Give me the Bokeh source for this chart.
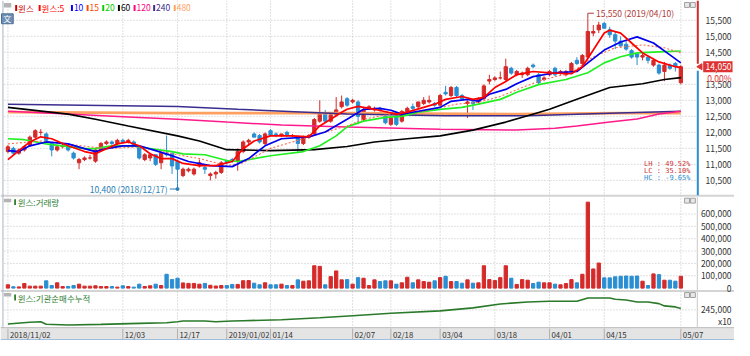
import numpy as np
from bokeh.plotting import figure
from bokeh.models import Range1d, ColumnDataSource
from bokeh.core.properties import value
from bokeh.embed import file_html
from bokeh.resources import INLINE

# ---------------- data ----------------
DATE_TICK_IDX = [0, 21, 31, 40, 48, 63, 70, 79, 89, 99, 109, 123]
DATE_LABELS = ["2018/11/02", "12/03", "12/17", "2019/01/02", "01/14", "02/07",
               "02/18", "03/04", "03/18", "04/01", "04/15", "05/07"]
HIGH_DATE = "2019/04/10"
LOW_DATE = "2018/12/17"

OPEN = [11400, 11500, 11350, 11450, 11600, 11850, 12000, 11950, 11650, 11450,
        11550, 11550, 11350, 11050, 11150, 11200, 11100, 11450, 11650, 11700,
        11650, 11750, 11700, 11700, 11550, 11150, 11200, 11300, 11050, 11350,
        11350, 11100, 10650, 10800, 10700, 10950, 10900, 10650, 10700, 10750,
        11100, 11150, 11100, 11400, 11700, 11950, 11900, 11650, 12050, 11950,
        11900, 12000, 11900, 11850, 11650, 11850, 11950, 12350, 12600, 12350,
        12550, 12800, 13050, 12950, 12950, 12400, 12750, 12700, 12750, 12500,
        12250, 12500, 12350, 12650, 12800, 12800, 12900, 12950, 12900, 12850,
        13250, 13150, 13400, 13150, 12900, 12950, 12950, 13050, 13600, 13650,
        13700, 13650, 14000, 13800, 13800, 13800, 14100, 13800, 13650, 13800,
        14000, 13850, 13800, 13900, 14250, 14150, 14350, 15100, 15200, 15400,
        15200, 15050, 14850, 14750, 14550, 14450, 14350, 14350, 14100, 14100,
        13900, 14100, 14150, 13550]
HIGH = [11600, 11550, 11500, 11600, 11900, 12100, 12100, 12000, 11700, 11600,
        11650, 11600, 11400, 11200, 11250, 11300, 11500, 11700, 11750, 11750,
        11800, 11800, 11800, 11750, 11550, 11350, 11350, 11300, 11400, 11900,
        11350, 11150, 10900, 10900, 10900, 11150, 10950, 10750, 10800, 11100,
        11150, 11200, 11500, 11750, 11800, 12000, 11950, 12000, 12100, 12000,
        11950, 12050, 11950, 11900, 11900, 11950, 12450, 13000, 12700, 12600,
        13100, 13150, 13100, 13050, 13000, 12750, 12850, 12800, 12800, 12550,
        12500, 12550, 12700, 12800, 12900, 12950, 13100, 13150, 12950, 13200,
        13450, 13450, 13450, 13200, 13000, 13000, 13100, 13500, 13800, 13750,
        13900, 14300, 14050, 13950, 13900, 14050, 14150, 13850, 13750, 13950,
        14050, 13950, 13950, 14200, 14350, 14450, 15550, 15350, 15450, 15450,
        15300, 15150, 15000, 14850, 14600, 14500, 14450, 14400, 14300, 14150,
        14200, 14150, 14200, 14100]
LOW = [11350, 11300, 11300, 11400, 11550, 11800, 11900, 11700, 11250, 11400,
       11500, 11400, 11150, 10850, 11100, 11150, 11050, 11400, 11600, 11600,
       11600, 11650, 11650, 11550, 11150, 11100, 11100, 10950, 10850, 11250,
       10700, 10400, 10600, 10750, 10650, 10900, 10700, 10500, 10550, 10700,
       11000, 11050, 10800, 11350, 11600, 11850, 11650, 11600, 11900, 11850,
       11850, 11850, 11850, 11350, 11600, 11800, 11900, 12300, 12300, 12300,
       12500, 12750, 12800, 12900, 12250, 12350, 12700, 12650, 12650, 12250,
       12200, 12200, 12300, 12600, 12700, 12750, 12850, 12900, 12800, 12800,
       13150, 13100, 13100, 13000, 12450, 12700, 12900, 13000, 13500, 13600,
       13650, 13600, 13800, 13750, 13700, 13750, 14000, 13500, 13600, 13750,
       13750, 13800, 13750, 13850, 14100, 14100, 14300, 15000, 15100, 15250,
       14950, 14600, 14650, 14550, 14300, 14100, 14250, 14150, 14050, 13800,
       13600, 13950, 13900, 13500]
CLOSE = [11550, 11350, 11450, 11550, 11850, 12050, 12000, 11750, 11450, 11550,
         11600, 11450, 11200, 11150, 11200, 11200, 11450, 11650, 11700, 11650,
         11750, 11700, 11750, 11600, 11200, 11300, 11300, 11000, 11350, 11300,
         10950, 10850, 10850, 10850, 10850, 11050, 10850, 10700, 10750, 11050,
         11050, 11100, 11400, 11700, 11750, 11850, 11700, 11950, 11900, 11900,
         11950, 11900, 11900, 11650, 11850, 11900, 12400, 12600, 12350, 12550,
         12700, 12950, 12850, 13000, 12500, 12700, 12800, 12750, 12700, 12300,
         12450, 12250, 12650, 12750, 12750, 12950, 13000, 13000, 12850, 13150,
         13200, 13400, 13150, 13050, 12950, 12900, 13050, 13450, 13650, 13700,
         13700, 14050, 13850, 13900, 13850, 14000, 14050, 13550, 13700, 13900,
         13800, 13900, 13900, 14150, 14150, 14400, 15150, 15150, 15350, 15250,
         15050, 14850, 14700, 14600, 14350, 14350, 14400, 14250, 14250, 13850,
         14100, 14000, 14050, 14050]
VOLUME = [27000, 11000, 10000, 37000, 16000, 16000, 16000, 59000, 21000, 43000,
          13000, 13000, 21000, 32000, 16000, 16000, 19000, 13000, 13000, 13000,
          8000, 19000, 13000, 8000, 32000, 13000, 19000, 32000, 21000, 112000,
          69000, 80000, 42000, 38000, 38000, 32000, 38000, 23000, 17000, 21000,
          21000, 30000, 30000, 60000, 61000, 40000, 27000, 43000, 27000, 27000,
          32000, 21000, 21000, 67000, 56000, 59000, 181000, 176000, 27000, 93000,
          139000, 67000, 69000, 32000, 85000, 80000, 21000, 67000, 53000, 59000,
          59000, 32000, 43000, 88000, 43000, 67000, 53000, 48000, 59000, 85000,
          96000, 53000, 53000, 40000, 67000, 40000, 43000, 181000, 69000, 61000,
          85000, 181000, 80000, 30000, 69000, 64000, 37000, 48000, 43000, 43000,
          32000, 27000, 37000, 69000, 43000, 112000, 696000, 155000, 203000, 83000,
          83000, 92000, 96000, 98000, 96000, 98000, 56000, 21000, 115000, 109000,
          64000, 64000, 56000, 96000]

MA5_IDX = [0, 2, 4, 6, 8, 11, 14, 16, 18, 20, 22, 24, 26, 28, 30, 32, 35, 38, 41, 43,
           45, 48, 52, 55, 57, 59, 61, 62, 64, 67, 71, 73, 76, 78, 80, 83, 85, 87, 89,
           91, 93, 96, 99, 103, 105, 107, 109, 110, 112, 114, 116, 119, 122, 123]
MA5_VAL = [11150, 11430, 11700, 11860, 11800, 11580, 11400, 11330, 11490, 11640, 11700,
           11580, 11330, 11180, 11180, 11030, 10960, 10960, 11090, 11490, 11730, 11890,
           11890, 11860, 12200, 12410, 12630, 12720, 12810, 12720, 12570, 12630, 12780,
           12880, 13030, 13120, 13030, 13090, 13400, 13590, 13800, 13900, 13860, 13830,
           14050, 14570, 15100, 15190, 15100, 14790, 14480, 14200, 14050, 14020]
MA10_IDX = [0, 2, 4, 7, 11, 14, 16, 18, 21, 24, 27, 30, 33, 37, 41, 44, 47, 50, 55, 58,
            62, 65, 68, 70, 72, 75, 79, 81, 84, 86, 88, 91, 93, 96, 100, 104, 106, 109,
            112, 115, 118, 121, 123]
MA10_VAL = [11430, 11400, 11580, 11700, 11640, 11490, 11400, 11490, 11580, 11580, 11430,
            11270, 11090, 10960, 10930, 11180, 11580, 11800, 11860, 12010, 12410, 12720,
            12750, 12690, 12570, 12660, 12780, 12970, 13030, 12970, 13190, 13340, 13520,
            13740, 13860, 13900, 14170, 14570, 14820, 14980, 14790, 14420, 14170]
MA15_IDX = [0, 6, 12, 18, 24, 30, 35, 40, 43, 48, 54, 58, 62, 65, 70, 76, 82, 86, 90,
            94, 98, 103, 107, 111, 116, 120, 123]
MA15_VAL = [11640, 11730, 11610, 11490, 11550, 11330, 11180, 10960, 11050, 11500, 11800,
            12010, 12200, 12410, 12570, 12660, 12880, 12940, 13120, 13400, 13650, 13860,
            14360, 14640, 14730, 14640, 14480]
MA20_IDX = [0, 3, 7, 14, 16, 19, 23, 26, 30, 32, 36, 40, 42, 48, 54, 57, 60, 62, 65, 69,
            72, 75, 79, 83, 86, 90, 93, 97, 102, 106, 109, 112, 115, 119, 123]
MA20_VAL = [11800, 11770, 11640, 11490, 11490, 11580, 11580, 11490, 11400, 11330, 11300,
            11120, 11090, 11270, 11400, 11580, 11890, 12170, 12350, 12470, 12500, 12630,
            12720, 12780, 12880, 13030, 13250, 13490, 13650, 13860, 14170, 14360, 14480,
            14510, 14540]
MA60_IDX = [0, 11, 16, 22, 31, 35, 40, 48, 56, 62, 67, 73, 79, 85, 91, 95, 99, 104, 110,
            116, 120, 123]
MA60_VAL = [12780, 12570, 12410, 12200, 11890, 11730, 11460, 11430, 11460, 11560, 11700,
            11800, 11890, 12070, 12320, 12520, 12720, 13030, 13400, 13520, 13650, 13710]
MA120_IDX = [0, 11, 22, 31, 40, 50, 62, 79, 93, 100, 104, 110, 115, 119, 123]
MA120_VAL = [12660, 12570, 12480, 12410, 12320, 12230, 12170, 12100, 12070, 12130, 12200,
             12320, 12420, 12570, 12660]
MA240_IDX = [0, 31, 42, 62, 80, 95, 110, 123]
MA240_VAL = [12880, 12810, 12720, 12570, 12520, 12520, 12600, 12660]
MA480_IDX = [0, 31, 62, 93, 112, 123]
MA480_VAL = [12630, 12600, 12600, 12570, 12600, 12600]

INST_IDX = [0, 4, 6, 7, 11, 17, 24, 29, 31, 32, 36, 38, 41, 43, 50, 57, 63, 70, 79, 85,
            90, 95, 99, 104, 106, 110, 111, 113, 115, 117, 119, 120, 122, 123]
INST_VAL = [230700, 232500, 233000, 230500, 229700, 230300, 231300, 232000, 233000,
            233700, 233700, 233000, 233700, 234000, 235000, 237000, 239000, 241500,
            244000, 247000, 251000, 253000, 253700, 253700, 257000, 257000, 255700,
            255000, 253000, 253000, 251300, 249000, 248000, 246300]

PRICE_TICKS = [10500, 11000, 11500, 12000, 12500, 13000, 13500, 14000, 14500, 15000, 15500]
VOL_TICKS = [0, 100000, 200000, 300000, 400000, 500000, 600000]
INST_TICKS = [245000]

LEGEND_TEXT = ["윈스", "윈스:5", "10", "15", "20", "60", "120", "240", "480"]
LEGEND_COLOR = ["#cc0000", "#ff0000", "#0000ff", "#ff4500", "#00d000", "#000000",
                "#ff0080", "#3b2d8f", "#ffa060"]

# ---------------- layout helpers (reference pixels) ----------------
def X(px):
    return (px - 7.6) / 5.59

PRICE_RANGE = (5500, 16117.3)
PPW = 344.0 / (PRICE_RANGE[1] - PRICE_RANGE[0])   # pixels per won


def dp(px):
    return px / PPW

RED = "#d42a2a"
BLUE = "#2a8ed2"
GRID = "#c2c2c2"
KF = value("Noto Sans CJK KR")
MONO = value("DejaVu Sans Mono")

p = figure(width=734, height=340, x_range=Range1d(X(0), X(750)), y_range=Range1d(344, 0),
           output_backend="svg", toolbar_location=None,
           x_axis_location=None, y_axis_location=None,
           min_border_left=0, min_border_right=0, min_border_top=0, min_border_bottom=0)
p.outline_line_color = None
p.xgrid.visible = False
p.ygrid.visible = False
p.background_fill_color = "white"
p.border_fill_color = "white"
p.extra_y_ranges = {"price": Range1d(*PRICE_RANGE),
                    "vol": Range1d(-424000, 2328000),
                    "inst": Range1d(214000, 558000)}

# panel chrome
p.quad(left=X(0), right=X(750), top=331, bottom=344, fill_color="#e4e4e4", line_color=None)
p.segment(x0=X(0), x1=X(750), y0=[331, 343.5], y1=[331, 343.5],
          line_color=["#bcbcbc", "#5b9bd5"], line_width=1)
p.quad(left=X(0), right=X(750), top=[196.5, 293], bottom=[198.5, 295],
       fill_color="#d4d4d4", line_color=None)
p.segment(x0=X(2.5), x1=X(2.5), y0=0, y1=331, line_color="#a9b4c2", line_width=1)
p.segment(x0=X(712), x1=X(712), y0=[199, 295], y1=[293, 331], line_color="#c8c8c8")

# grids
p.segment(x0=DATE_TICK_IDX, x1=DATE_TICK_IDX, y0=0, y1=331, line_color=GRID, line_dash="1 2")
p.segment(x0=DATE_TICK_IDX, x1=DATE_TICK_IDX, y0=332, y1=343, line_color="#b0b0b0")
p.segment(x0=X(4), x1=X(711), y0=PRICE_TICKS, y1=PRICE_TICKS, y_range_name="price",
          line_color=GRID, line_dash="1 2")
p.segment(x0=X(4), x1=X(711), y0=VOL_TICKS[1:], y1=VOL_TICKS[1:], y_range_name="vol",
          line_color=GRID, line_dash="1 2")
p.segment(x0=X(4), x1=X(711), y0=INST_TICKS, y1=INST_TICKS, y_range_name="inst",
          line_color=GRID, line_dash="1 2")

# candles & volume
N = len(CLOSE)
IDX = list(range(N))
colors = [RED if c >= o else BLUE for o, c in zip(OPEN, CLOSE)]
src = ColumnDataSource(dict(x=IDX, o=OPEN, h=HIGH, l=LOW, c=CLOSE,
                            top=[max(o, c) for o, c in zip(OPEN, CLOSE)],
                            bot=[min(o, c) for o, c in zip(OPEN, CLOSE)],
                            vol=VOLUME, color=colors))
p.segment(x0="x", x1="x", y0="l", y1="h", line_color="color", source=src, y_range_name="price")
p.vbar(x="x", top="top", bottom="bot", width=0.6, fill_color="color", line_color="color",
       source=src, y_range_name="price")
p.vbar(x="x", top="vol", bottom=0, width=0.6, fill_color="color", line_color="color",
       source=src, y_range_name="vol")

# moving averages
for xs, ys, col, w, dash in [
        (MA480_IDX, MA480_VAL, "#ffa060", 2.6, "solid"),
        (MA240_IDX, MA240_VAL, "#3b2d8f", 1.5, "solid"),
        (MA120_IDX, MA120_VAL, "#ff1a8c", 1.5, "solid"),
        (MA60_IDX, MA60_VAL, "#000000", 1.6, "solid"),
        (MA20_IDX, MA20_VAL, "#22ee22", 1.7, "solid"),
        (MA15_IDX, MA15_VAL, "#ff6a4d", 1.1, "2 2"),
        (MA10_IDX, MA10_VAL, "#0000ee", 1.7, "solid"),
        (MA5_IDX, MA5_VAL, "#ff0000", 1.7, "solid")]:
    p.line(xs, ys, line_color=col, line_width=w, line_dash=dash, y_range_name="price")

p.line(INST_IDX, INST_VAL, line_color="#2a7a2a", line_width=1.6, y_range_name="inst")

# price bar at right edge of price panel
last = CLOSE[-1]
prev = CLOSE[-2]
p.segment(x0=X(712.5), x1=X(712.5), y0=[last + dp(3)], y1=[PRICE_RANGE[1]],
          line_color=RED, line_width=2, y_range_name="price")
p.segment(x0=X(712.5), x1=X(712.5), y0=[last - dp(4)], y1=[13000 - dp(96)],
          line_color=BLUE, line_width=2, y_range_name="price")

# high / low annotations
hi = max(HIGH); hi_i = HIGH.index(hi)
lo = min(LOW); lo_i = LOW.index(lo)
hy = hi + dp(5.5)
ly = lo - dp(5.5)
p.line([hi_i, hi_i, hi_i + 1.1], [hi, hy, hy], line_color="#b03a3a", y_range_name="price")
p.text(x=[hi_i + 1.5], y=[hy], text=[f"{hi:,} ({HIGH_DATE})"], text_font=KF,
       text_font_size="8.5px", text_color="#b03a3a", text_baseline="middle", y_range_name="price")
p.line([lo_i, lo_i, lo_i - 1.4], [lo, ly, ly], line_color="#2a7fb8", y_range_name="price")
p.scatter([lo_i], [ly], size=3, color="#2a7fb8", y_range_name="price")
p.text(x=[lo_i - 1.8], y=[ly], text=[f"{lo:,} ({LOW_DATE})"], text_font=KF,
       text_font_size="8.5px", text_color="#2a7fb8", text_align="right",
       text_baseline="middle", y_range_name="price")

lh = (hi - lo) / lo * 100
lc = (last - lo) / lo * 100
hc = (last - hi) / hi * 100
p.text(x=X(705), y=[165, 172.5, 180], text=[f"LH : {lh:.2f}%", f"LC : {lc:.2f}%", f"HC : {hc:.2f}%"],
       text_font=MONO, text_font_size="7px", text_color=["#cc3333", "#cc3333", "#2a8ed2"],
       text_align="right", text_baseline="middle")

# right axis labels
p.text(x=X(747), y=PRICE_TICKS, text=[f"{v:,}" for v in PRICE_TICKS], text_font=KF,
       text_font_size="8.5px", text_color="#333333", text_align="right",
       text_baseline="middle", y_range_name="price")
p.rect(x=X(733), y=[last], width=X(748) - X(718), height=dp(11), fill_color="#dd3333",
       line_color=None, y_range_name="price")
p.scatter(x=[X(715)], y=[last], marker="triangle", angle=np.pi / 2, size=6, color="#dd3333",
          y_range_name="price")
p.text(x=X(747), y=[last], text=[f"{last:,}"], text_font=KF, text_font_size="8.5px",
       text_color="white", text_align="right", text_baseline="middle", y_range_name="price")
p.text(x=X(747), y=[last - dp(11)], text=[f"{(last - prev) / prev * 100:.2f}%"], text_font=KF,
       text_font_size="8.5px", text_color="#dd3333", text_align="right",
       text_baseline="middle", y_range_name="price")
p.text(x=X(747), y=VOL_TICKS, text=[f"{v:,}" for v in VOL_TICKS], text_font=KF,
       text_font_size="8.5px", text_color="#333333", text_align="right",
       text_baseline="middle", y_range_name="vol")
p.text(x=X(747), y=INST_TICKS, text=[f"{v:,}" for v in INST_TICKS], text_font=KF,
       text_font_size="8.5px", text_color="#333333", text_align="right",
       text_baseline="middle", y_range_name="inst")
p.text(x=X(747), y=[324], text=["x10"], text_font=KF, text_font_size="8.5px",
       text_color="#333333", text_align="right", text_baseline="middle")

# date labels
p.text(x=DATE_TICK_IDX, y=337.5, text=DATE_LABELS, x_offset=2, text_font=KF,
       text_font_size="7.8px", text_color="#333333", text_baseline="middle")

# header legend
LEG_SQ_PX = [15, 39, 72, 88, 104, 120, 136, 156, 177]
p.quad(left=[X(s) for s in LEG_SQ_PX], right=[X(s + 2) for s in LEG_SQ_PX], top=4.5, bottom=10.5,
       fill_color=LEGEND_COLOR, line_color=None)
p.text(x=[X(s + 3) for s in LEG_SQ_PX], y=7.5, text=LEGEND_TEXT, text_font=KF,
       text_font_size="8.5px", text_color=LEGEND_COLOR, text_baseline="middle")

# panel icons
p.quad(left=X(3.5), right=X(11), top=[2.5, 200.5, 296], bottom=[7, 204, 299.5],
       fill_color="#b4b4b4", line_color=None)
p.quad(left=[X(699), X(705)], right=[X(704), X(710)], top=[2, 2], bottom=[7, 7],
       fill_color="#e8e8e8", line_color="#a0a0a0")
p.quad(left=[X(699), X(705)], right=[X(704), X(710)], top=[200, 200], bottom=[205, 205],
       fill_color="#e8e8e8", line_color="#a0a0a0")
p.quad(left=[X(699), X(705)], right=[X(704), X(710)], top=[295.5, 295.5], bottom=[300.5, 300.5],
       fill_color="#e8e8e8", line_color="#a0a0a0")
p.quad(left=X(1), right=X(13), top=13.5, bottom=23.5, fill_color="#6f8fb5", line_color="#4d6d93")
p.text(x=[X(7)], y=[18.7], text=["文"], text_font=KF, text_font_size="8px", text_color="white",
       text_align="center", text_baseline="middle")

# sub-panel titles
p.quad(left=X(14), right=X(15.8), top=[201, 297.5], bottom=[207, 303.5], fill_color="#2a7a2a",
       line_color=None)
p.text(x=X(17.5), y=[204, 300.5], text=["윈스:거래량", "윈스:기관순매수누적"], text_font=KF,
       text_font_size="8.5px", text_color="#2e7d32", text_baseline="middle")

open("out.html", "w").write(file_html(p, INLINE))
